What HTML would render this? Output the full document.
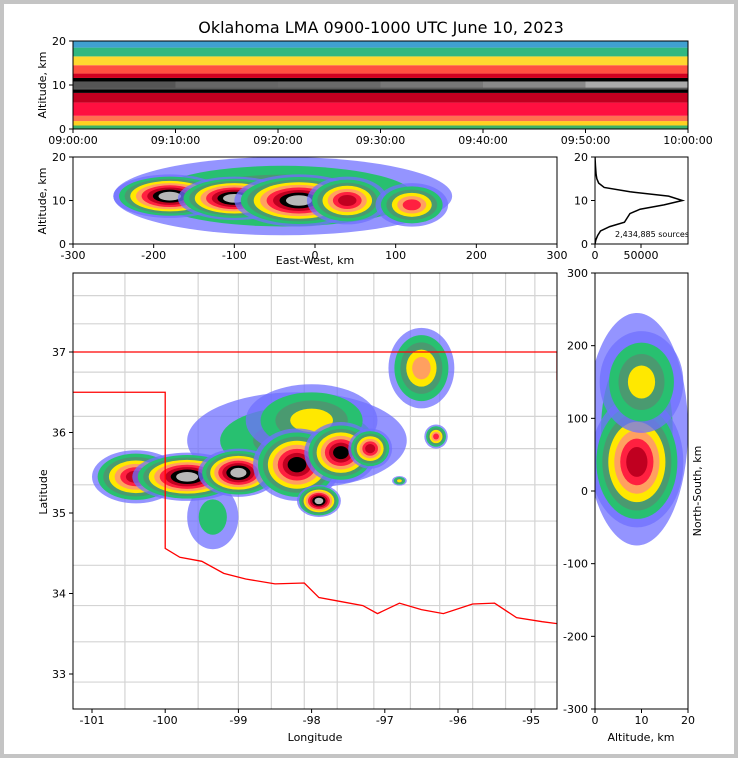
<!DOCTYPE html>
<html><head><meta charset="utf-8"><style>
html,body{margin:0;padding:0;background:#fff}
#wrap{position:relative;width:738px;height:758px;background:#fff;overflow:hidden}
svg{position:absolute;left:0;top:0}
text{font-family:"DejaVu Sans","Liberation Sans",sans-serif;fill:#000}
</style></head><body>
<div id="wrap"></div>
<script>
// ---- data ----
const timeTicks=["09:00:00","09:10:00","09:20:00","09:30:00","09:40:00","09:50:00","10:00:00"];
const altTicks=[0,10,20];
const ewTicks=[-300,-200,-100,0,100,200,300];
const histTicks=[0,50000];
const lonTicks=[-101,-100,-99,-98,-97,-96,-95];
const latTicks=[33,34,35,36,37];
const nsTicks=[-300,-200,-100,0,100,200,300];
const nsAltTicks=[0,10,20];
// time-height bands (alt from, alt to, color)
const bandLo=[0,0.8,1.8,3,6,8.2,9,10.8,11.6,12.6,14.5,16.5,18.5];
const bandHi=[0.8,1.8,3,6,8.2,9,10.8,11.6,12.6,14.5,16.5,18.5,20];
const bandCol=["#3cb06a","#ffd020","#ff7050","#ff1040","#c00020","#000000","#5a5a5a","#000000","#d00020","#ff5040","#ffd830","#30b880","#40a0d0"];
// core brightness per 10 minutes
const coreGray=["#555","#666","#6a6a6a","#777","#888","#aaa"];
// altitude histogram
const histAlt=[0,1,2,3,4,5,6,7,8,9,10,11,12,13,14,15,16,18,20];
const histCnt=[0,1000,3000,6000,16000,32000,35000,38000,49000,75000,95000,80000,38000,10000,4000,2000,1200,500,0];
// map storm cells: lon, lat, rx(deg), ry(deg), level
const cellLon=[-98.2,-98.0,-99.35,-100.4,-99.7,-99.0,-98.2,-97.6,-97.2,-97.9,-96.5,-96.3,-96.8];
const cellLat=[35.9,36.15,34.95,35.45,35.45,35.5,35.6,35.75,35.8,35.15,36.8,35.95,35.4];
const cellRx=[1.5,0.9,0.35,0.6,0.75,0.55,0.6,0.5,0.3,0.3,0.45,0.16,0.1];
const cellRy=[0.6,0.45,0.4,0.33,0.3,0.3,0.45,0.38,0.25,0.2,0.5,0.15,0.06];
const cellLvl=[2,3,1,6,8,8,7,7,6,8,4,5,3];
// east-west cells: km, alt, rkm, ralt, level
const ewKm=[-40,-180,-100,-20,40,120];
const ewAlt=[11,11,10.5,10,10,9];
const ewRk=[210,70,70,80,50,45];
const ewRa=[9,5,5,6,5.5,5];
const ewLvl=[3,8,8,8,6,5];
// north-south cells: alt, km, ralt, rkm, level
const nsAlt=[9,10,9,10];
const nsKm=[85,25,40,150];
const nsRa=[11,6,10,9];
const nsRk=[160,25,90,70];
const nsLvl=[2,8,6,3];
const palette=["#7070ff","#28c070","#4a9a70","#ffe800","#ffa060","#ff2040","#c00020","#000000","#b8b8b8"];

// ---- helpers ----
const NS="http://www.w3.org/2000/svg";
const svg=document.createElementNS(NS,"svg");
svg.setAttribute("width",738);svg.setAttribute("height",758);


document.getElementById("wrap").appendChild(svg);
function el(tag,attrs,parent){const e=document.createElementNS(NS,tag);for(const k in attrs)e.setAttribute(k,attrs[k]);(parent||svg).appendChild(e);return e;}
function txt(x,y,s,size,anchor,parent,rot){const t=el("text",{x:x,y:y,"font-size":size,"text-anchor":anchor||"middle"},parent);if(rot)t.setAttribute("transform",`rotate(${rot} ${x} ${y})`);t.textContent=s;return t;}
function clip(id,x,y,w,h){const c=el("clipPath",{id:id});el("rect",{x:x,y:y,width:w,height:h},c);}
function group(name,clipId){const g=el("g",clipId?{"clip-path":`url(#${clipId})`}:{});return g;}
function layered(g,cx,cy,rx,ry,lvl){for(let k=0;k<=lvl;k++){const f=1-k/(lvl+1)*0.9;const e=el("ellipse",{cx:cx,cy:cy,rx:rx*f,ry:ry*f,fill:palette[Math.min(k,8)],opacity:k==0?0.75:1},g);

}}
function frame(x,y,w,h,name){const r=el("rect",{x:x,y:y,width:w,height:h,fill:"none",stroke:"#000","stroke-width":1});}
function xtick(x,y,label,sz){el("line",{x1:x,y1:y,x2:x,y2:y+4,stroke:"#000"});const t=txt(x,y+15,label,sz||11);}
function ytick(x,y,label,right){if(right){el("line",{x1:x,y1:y,x2:x+4,y2:y,stroke:"#000"});const t=txt(x+7,y+4,label,11,"start");}else{el("line",{x1:x,y1:y,x2:x-4,y2:y,stroke:"#000"});const t=txt(x-7,y+4,label,11,"end");}}

// outer border
const ob=el("rect",{x:2,y:2,width:734,height:754,fill:"none",stroke:"#c4c4c4","stroke-width":4});


// title
const ttl=txt(381,33,"Oklahoma LMA 0900-1000 UTC June 10, 2023",16);


// ---- panel 1: time-height ----
const P1={x:73,y:41,w:615,h:88};
const tx=m=>P1.x+m/60*P1.w, ty=a=>P1.y+P1.h-a/20*P1.h;
clip("c1",P1.x,P1.y,P1.w,P1.h);
const g1=group("time-height-plot","c1");
for(let i=0;i<bandLo.length;i++){const r=el("rect",{x:P1.x,y:ty(bandHi[i]),width:P1.w,height:ty(bandLo[i])-ty(bandHi[i]),fill:bandCol[i]},g1);
}
for(let i=0;i<coreGray.length;i++){const r=el("rect",{x:tx(i*10),y:ty(10.8),width:tx(10)-tx(0),height:ty(9.4)-ty(10.8),fill:coreGray[i]},g1);
}
frame(P1.x,P1.y,P1.w,P1.h,"time-height-frame");
timeTicks.forEach((s,i)=>xtick(tx(i*10),P1.y+P1.h,s));
altTicks.forEach(a=>ytick(P1.x,ty(a),a));
const yl1=txt(46,85,"Altitude, km",11,"middle",null,-90);

// ---- panel 2: east-west ----
const P2={x:73,y:157,w:484,h:87};
const ex=k=>P2.x+(k+300)/600*P2.w, ey=a=>P2.y+P2.h-a/20*P2.h;
clip("c2",P2.x,P2.y,P2.w,P2.h);
const g2=group("east-west-plot","c2");
for(let i=0;i<ewKm.length;i++)layered(g2,ex(ewKm[i]),ey(ewAlt[i]),ewRk[i]/600*P2.w,ewRa[i]/20*P2.h,ewLvl[i]);
frame(P2.x,P2.y,P2.w,P2.h,"east-west-frame");
ewTicks.forEach(k=>xtick(ex(k),P2.y+P2.h,k));
altTicks.forEach(a=>ytick(P2.x,ey(a),a));
const yl2=txt(46,201,"Altitude, km",11,"middle",null,-90);
const xl2=txt(315,264,"East-West, km",11);

// ---- panel 3: histogram ----
const P3={x:595,y:157,w:93,h:87};
const hx=c=>P3.x+c/50000*46, hy=a=>P3.y+P3.h-a/20*P3.h;
clip("c3",P3.x,P3.y,P3.w,P3.h);
const g3=group("altitude-histogram","c3");
const hp=el("polyline",{points:histAlt.map((a,i)=>hx(histCnt[i])+","+hy(a)).join(" "),fill:"none",stroke:"#000","stroke-width":1.5},g3);

const st=txt(615,237,"2,434,885 sources",8,"start",g3);
frame(P3.x,P3.y,P3.w,P3.h,"histogram-frame");
histTicks.forEach(c=>xtick(hx(c),P3.y+P3.h,c));
altTicks.forEach(a=>ytick(P3.x,hy(a),a));

// ---- panel 4: map ----
const P4={x:73,y:273,w:484,h:436};
const mx=l=>92+(l+101)*73.2, my=l=>352+(37-l)*80.5;
clip("c4",P4.x,P4.y,P4.w,P4.h);
const gl=group("county-lines","c4");
const vLon=[-100.55,-99.55,-99,-98.55,-98.1,-97.65,-97.15,-96.65,-96.25,-95.8,-95.35,-94.95];
const hLat=[37.7,37.35,36.75,36.2,35.8,35.35,34.9,34.35,33.85,33.4,32.9];
vLon.forEach(l=>el("line",{x1:mx(l),y1:P4.y,x2:mx(l),y2:P4.y+P4.h,stroke:"#d4d4d4","stroke-width":1.2},gl));
hLat.forEach(l=>el("line",{x1:P4.x,y1:my(l),x2:P4.x+P4.w,y2:my(l),stroke:"#d4d4d4","stroke-width":1.2},gl));
const g4=group("plan-view-map","c4");
for(let i=0;i<cellLon.length;i++)layered(g4,mx(cellLon[i]),my(cellLat[i]),cellRx[i]*73.2,cellRy[i]*80.5,cellLvl[i]);
// state lines
const border=[[-101.3,37],[-94.6,37]];
const sl=el("polyline",{points:border.map(p=>mx(p[0])+","+my(p[1])).join(" "),fill:"none",stroke:"#ff0000","stroke-width":1.3},g4);

const rr=[[-101.3,36.5],[-100,36.5],[-100,34.56],[-99.8,34.45],[-99.5,34.4],[-99.2,34.25],[-98.9,34.18],[-98.5,34.12],[-98.1,34.13],[-97.9,33.95],[-97.6,33.9],[-97.3,33.85],[-97.1,33.75],[-96.8,33.88],[-96.5,33.8],[-96.2,33.75],[-95.8,33.87],[-95.5,33.88],[-95.2,33.7],[-94.85,33.65],[-94.6,33.62]];
const rl=el("polyline",{points:rr.map(p=>mx(p[0])+","+my(p[1])).join(" "),fill:"none",stroke:"#ff0000","stroke-width":1.3},g4);

el("line",{x1:557,y1:my(37),x2:557,y2:my(36.65),stroke:"#ff0000","stroke-width":1.3},g4);
frame(P4.x,P4.y,P4.w,P4.h,"map-frame");
lonTicks.forEach(l=>xtick(mx(l),P4.y+P4.h,l));
latTicks.forEach(l=>ytick(P4.x,my(l),l));
const xl4=txt(315,741,"Longitude",11);
const yl4=txt(47,492,"Latitude",11,"middle",null,-90);

// ---- panel 5: north-south ----
const P5={x:595,y:273,w:93,h:436};
const nx=a=>P5.x+a/20*P5.w, ny=k=>P5.y+(300-k)/600*P5.h;
clip("c5",P5.x,P5.y,P5.w,P5.h);
const g5=group("north-south-plot","c5");
for(let i=0;i<nsAlt.length;i++)layered(g5,nx(nsAlt[i]),ny(nsKm[i]),nsRa[i]/20*P5.w,nsRk[i]/600*P5.h,nsLvl[i]);
frame(P5.x,P5.y,P5.w,P5.h,"north-south-frame");
nsAltTicks.forEach(a=>xtick(nx(a),P5.y+P5.h,a));
nsTicks.forEach(k=>ytick(P5.x,ny(k),k,false));
const xl5=txt(641,741,"Altitude, km",11);
const yl5=txt(701,491,"North-South, km",11,"middle",null,-90);
</script>
</body></html>
